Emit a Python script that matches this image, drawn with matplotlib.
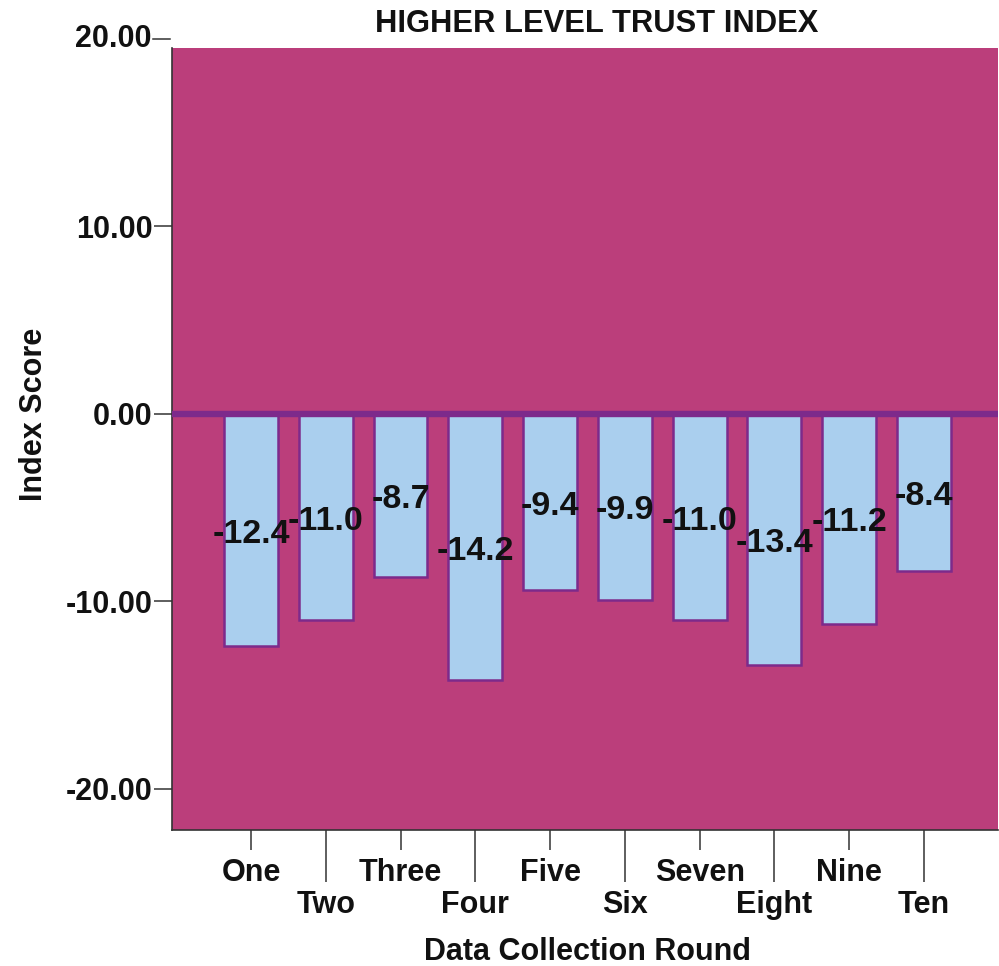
import matplotlib
matplotlib.use("Agg")
import matplotlib.pyplot as plt

plt.rcParams['font.family'] = ['Liberation Sans', 'DejaVu Sans']
plt.rcParams['font.weight'] = 'bold'

rounds = ["One", "Two", "Three", "Four", "Five", "Six", "Seven", "Eight", "Nine", "Ten"]
scores = [-12.4, -11.0, -8.7, -14.2, -9.4, -9.9, -11.0, -13.4, -11.2, -8.4]
y_ticks = [-20, -10, 0, 10]

PLOT_BG = "#BB3E7B"
PURPLE = "#7D2A8B"
BAR_FILL = "#AACFEE"
INK = "#111111"

W, H = 999, 966
fig = plt.figure(figsize=(W / 100, H / 100), dpi=100)
fig.patch.set_facecolor("white")
ax = fig.add_axes([172 / W, 1 - 830 / H, (998 - 172) / W, (830 - 48) / H])
ax.set_facecolor(PLOT_BG)

pos = list(range(len(rounds)))
ax.bar(pos, scores, width=0.72, color=BAR_FILL, edgecolor=PURPLE, linewidth=1.8, zorder=2)
ax.axhline(0, color=PURPLE, linewidth=4.6, zorder=3)

for x, v in zip(pos, scores):
    ax.annotate(f"{v:.1f}", (x, v / 2), xytext=(0, -9), textcoords="offset points",
                ha="center", va="baseline", fontsize=24.5, fontweight="bold",
                color=INK, zorder=4)

ax.set_xlim(-1.056, 9.99)
ax.set_ylim(-22.19, 19.52)

# y axis: the 20.00 tick sits just above the plot frame, drawn by hand
ax.set_yticks(y_ticks, [f"{t:.2f}" for t in y_ticks])
ax.tick_params(axis="y", length=13, width=1.1, color="#333333", pad=1,
               labelsize=22, labelcolor=INK)
ytrans = ax.get_yaxis_transform()
ax.plot([-19 / 826, -2 / 826], [20, 20], transform=ytrans, color="#333333",
        linewidth=1.1, clip_on=False)
ax.text(-21 / 826, 20, "20.00", transform=ytrans, ha="right", va="center",
        fontsize=22, fontweight="bold", color=INK, clip_on=False)

# x axis: alternating short and long ticks so labels stagger on two rows
ax.set_xticks(pos[0::2], rounds[0::2])
ax.set_xticks(pos[1::2], rounds[1::2], minor=True)
ax.tick_params(axis="x", which="major", length=14.4, width=1.1, color="#333333",
               pad=5.5, labelsize=22, labelcolor=INK)
ax.tick_params(axis="x", which="minor", length=37.4, width=1.1, color="#333333",
               pad=5.5, labelsize=22, labelcolor=INK)
for lab in ax.get_xticklabels(which="both") + ax.get_yticklabels():
    lab.set_fontweight("bold")

ax.spines["left"].set_color("#333333")
ax.spines["bottom"].set_color("#333333")
ax.spines["left"].set_linewidth(1.2)
ax.spines["bottom"].set_linewidth(1.2)
ax.spines["top"].set_visible(False)
ax.spines["right"].set_visible(False)

fig.text(597 / W, 1 - 24 / H, "HIGHER LEVEL TRUST INDEX", ha="center", va="center",
         fontsize=22.2, fontweight="bold", color=INK)
fig.text(587 / W, 1 - 952 / H, "Data Collection Round", ha="center", va="center",
         fontsize=22, fontweight="bold", color=INK)
fig.text(34 / W, 1 - 414 / H, "Index Score", ha="center", va="center", rotation=90,
         fontsize=22, fontweight="bold", color=INK)

fig.savefig("out.png", dpi=100, facecolor="white")
